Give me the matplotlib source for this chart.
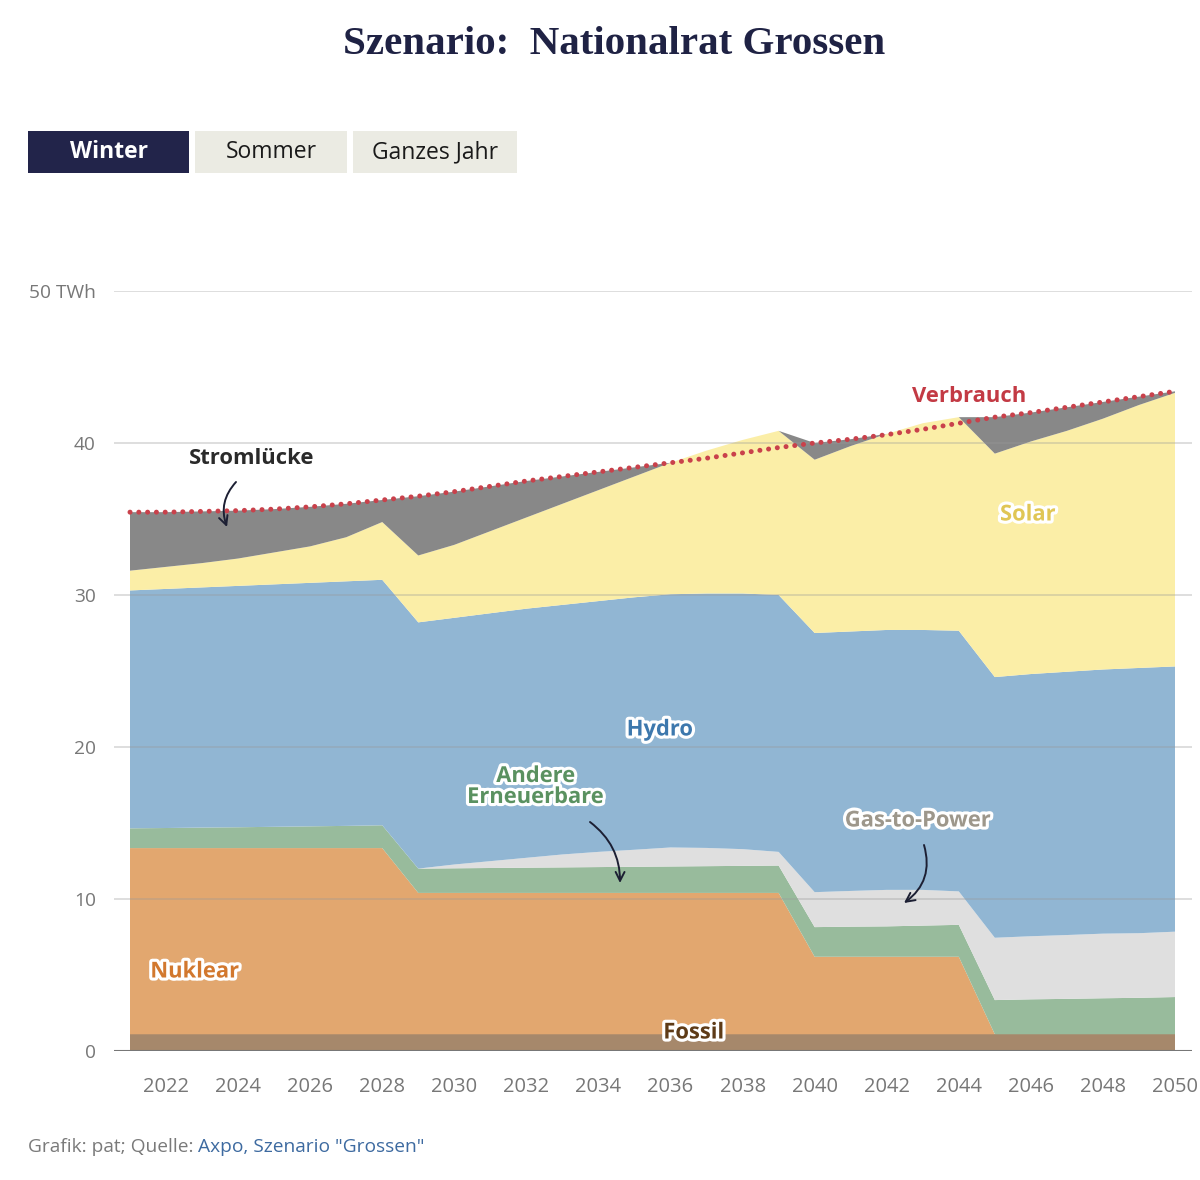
import matplotlib
matplotlib.use("Agg")
import matplotlib.pyplot as plt
import matplotlib.patheffects as pe
from matplotlib.patches import Rectangle
import numpy as np

years = list(range(2021, 2051))

fossil = [1.1] * 30
nuklear = [12.25] * 8 + [9.3] * 11 + [5.1] * 5 + [0.0] * 6
andere = [1.3, 1.32, 1.35, 1.37, 1.4, 1.43, 1.46, 1.5, 1.6, 1.62,
          1.64, 1.66, 1.68, 1.7, 1.72, 1.74, 1.76, 1.78, 1.8, 1.95,
          1.98, 2.0, 2.05, 2.1, 2.25, 2.3, 2.33, 2.37, 2.4, 2.45]
gas = [0, 0, 0, 0, 0, 0, 0, 0, 0, 0.25,
       0.45, 0.65, 0.85, 1.0, 1.12, 1.25, 1.2, 1.1, 0.9, 2.3,
       2.35, 2.4, 2.35, 2.2, 4.1, 4.15, 4.2, 4.25, 4.25, 4.3]
hydro = [15.65, 15.73, 15.8, 15.88, 15.95, 16.02, 16.09, 16.15, 16.2, 16.23,
         16.31, 16.39, 16.42, 16.5, 16.61, 16.66, 16.74, 16.82, 16.9, 17.05,
         17.07, 17.1, 17.1, 17.15, 17.15, 17.25, 17.32, 17.38, 17.45, 17.45]
solar = [1.3, 1.45, 1.6, 1.8, 2.1, 2.4, 2.9, 3.8, 4.4, 4.8,
         5.4, 6.0, 6.65, 7.3, 7.95, 8.65, 9.4, 10.1, 10.8, 11.4,
         12.2, 12.9, 13.6, 14.05, 14.7, 15.3, 15.85, 16.5, 17.3, 18.0]
stromluecke = [3.85, 3.6, 3.4, 3.15, 2.85, 2.6, 2.2, 1.45, 3.9, 3.5,
               2.95, 2.4, 1.8, 1.2, 0.6, 0, 0, 0, 0, 1.1,
               0.45, 0, 0, 0, 2.4, 1.9, 1.55, 1.1, 0.55, 0.1]
verbrauch = [35.45, 35.45, 35.5, 35.55, 35.65, 35.8, 36.0, 36.25, 36.5, 36.8,
             37.15, 37.5, 37.8, 38.1, 38.4, 38.7, 39.0, 39.35, 39.7, 40.0,
             40.25, 40.55, 40.9, 41.3, 41.7, 42.0, 42.35, 42.7, 43.05, 43.4]

layer_colors = ["#a6886b", "#e2a76f", "#98bb9c", "#dfdfdf", "#91b6d3", "#fbeea7", "#888888"]

SANS = "Open Sans"
W, H = 1200, 1180

fig = plt.figure(figsize=(12, 11.8), dpi=100)

# title + buttons
fig.text(614 / W, 1 - 45 / H, "Szenario:  Nationalrat Grossen", ha="center", va="center",
         fontsize=29.5, fontweight="bold", family="Liberation Serif", color="#1f2244")

buttons = [("Winter", 28, 189, "#22244a", "white", "bold"),
           ("Sommer", 195, 347, "#ebebe3", "#1a1a1a", "normal"),
           ("Ganzes Jahr", 353, 517, "#ebebe3", "#1a1a1a", "normal")]
for label, x0, x1, fc, tc, fw in buttons:
    fig.add_artist(Rectangle((x0 / W, 1 - 173 / H), (x1 - x0) / W, 42 / H,
                             transform=fig.transFigure, facecolor=fc, edgecolor="none"))
    fig.text((x0 + x1) / 2 / W, 1 - 152 / H, label, ha="center", va="center",
             fontsize=16.5, fontweight=fw, color=tc, family=SANS)

# chart
x_left, x_right = 114, 1192
ax = fig.add_axes([x_left / W, 1 - 1051 / H, (x_right - x_left) / W, (1051 - 291) / H])
px_per_year = (1175 - 130) / 29
ax.set_xlim(2021 - (130 - x_left) / px_per_year, 2021 + (x_right - 130) / px_per_year)
ax.set_ylim(0, 50)

ax.stackplot(years, fossil, nuklear, andere, gas, hydro, solar, stromluecke,
             colors=layer_colors, linewidth=0, zorder=1)
ax.plot(years, verbrauch, color="#c9414b", lw=3.6, linestyle=(0, (0.01, 1.75)),
        dash_capstyle="round", zorder=4, clip_on=False)

for yv in [10, 20, 30, 40, 50]:
    ax.axhline(yv, color="#999999", alpha=0.35, lw=1.3, zorder=2)
ax.axhline(0, color="#777777", lw=1.5, zorder=3)

for s in ax.spines.values():
    s.set_visible(False)
ax.set_yticks([0, 10, 20, 30, 40, 50])
ax.set_yticklabels(["0", "10", "20", "30", "40", "50 TWh"])
ax.set_xticks(range(2022, 2051, 2))
ax.tick_params(length=0, labelcolor="#777777")
ax.tick_params(axis="x", labelsize=14.5, pad=19)
ax.tick_params(axis="y", labelsize=13.8, pad=13)
for t in ax.get_xticklabels() + ax.get_yticklabels():
    t.set_family(SANS)


def px(xp, yp):
    return 2021 + (xp - 130) / px_per_year, (1051 - yp) / 15.2


halo = [pe.withStroke(linewidth=4.5, foreground="white")]
labels = [
    ("Nuklear", 195, 972, "#d2782e", True),
    ("Fossil", 694, 1033, "#5e3b17", True),
    ("Andere\nErneuerbare", 536, 787, "#5a9160", True),
    ("Gas-to-Power", 918, 821, "#9d978b", True),
    ("Hydro", 660, 730, "#3d78ad", True),
    ("Solar", 1028, 515, "#e0c655", True),
    ("Stromlücke", 252, 458, "#2a2a2a", False),
    ("Verbrauch", 969, 396, "#c33a44", False),
]
for text, xp, yp, col, outline in labels:
    x, y = px(xp, yp)
    ax.text(x, y, text, ha="center", va="center", fontsize=15.8, fontweight="bold",
            color=col, family=SANS, linespacing=1.0, zorder=6,
            path_effects=halo if outline else None)

arrows = [((236, 482), (227, 527), 0.3),
          ((590, 822), (620, 883), -0.25),
          ((924, 845), (904, 903), -0.35)]
for (sx, sy), (ex, ey), rad in arrows:
    ax.annotate("", xy=px(ex, ey), xytext=px(sx, sy), zorder=7,
                arrowprops=dict(arrowstyle="->", color="#1c1f33", lw=1.4,
                                connectionstyle=f"arc3,rad={rad}",
                                shrinkA=0, shrinkB=0, mutation_scale=16))

# footer
t1 = fig.text(28 / W, 1 - 1147 / H, "Grafik: pat; Quelle: ", ha="left", va="center",
              fontsize=13.8, color="#7a7a7a", family=SANS)
fig.canvas.draw()
bb = t1.get_window_extent(renderer=fig.canvas.get_renderer())
fig.text(bb.x1 / W, 1 - 1147 / H, 'Axpo, Szenario "Grossen"', ha="left", va="center",
         fontsize=13.8, color="#3d6aa0", family=SANS)

fig.savefig("out.png", dpi=100)
